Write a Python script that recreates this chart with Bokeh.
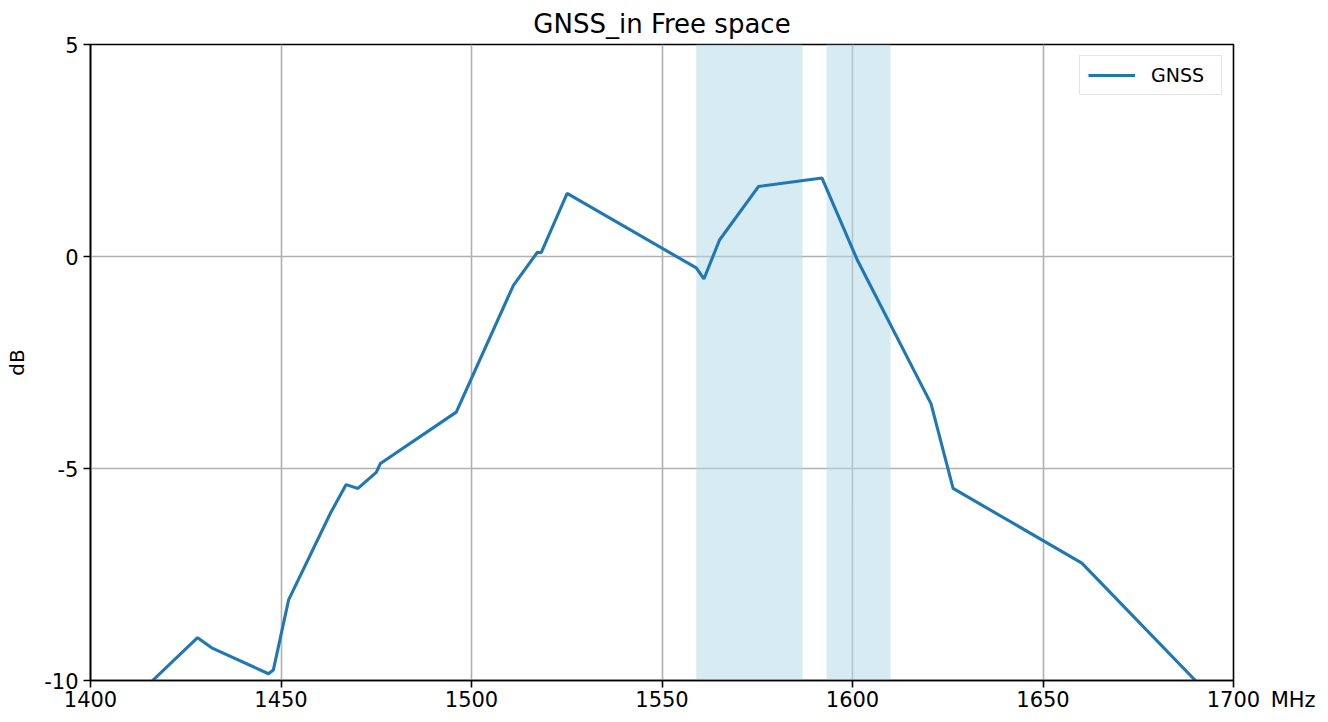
from bokeh.plotting import figure
from bokeh.models import BoxAnnotation, Range1d, Legend, LegendItem, FixedTicker
from bokeh.embed import file_html
from bokeh.resources import INLINE

# ---- data ----
freq_mhz = [1416.3, 1428.1, 1431.8, 1446.7, 1448.0, 1452.0, 1463.0, 1467.1, 1470.2,
            1475.0, 1476.1, 1496.0, 1511.0, 1517.3, 1518.3, 1525.1, 1559.0, 1561.0,
            1565.1, 1575.3, 1592.0, 1601.3, 1620.6, 1626.4, 1660.2, 1690.0]
gain_db = [-10.0, -8.99, -9.23, -9.84, -9.75, -8.10, -6.05, -5.38, -5.47,
           -5.09, -4.88, -3.67, -0.68, 0.10, 0.09, 1.49, -0.27, -0.53,
           0.39, 1.65, 1.85, -0.09, -3.47, -5.47, -7.23, -10.0]
band_left = [1559.0, 1593.2]
band_right = [1586.9, 1610.0]
x_ticks = [1400, 1450, 1500, 1550, 1600, 1650, 1700]
y_ticks = [-10, -5, 0, 5]
series_name = "GNSS"
title_text = "GNSS_in Free space"
x_unit = "MHz"

FONT = "DejaVu Sans"

p = figure(width=1320, height=714, output_backend="svg", toolbar_location=None,
           x_range=Range1d(1400, 1700), y_range=Range1d(-10, 5),
           min_border_left=90, min_border_right=87, min_border_top=44, min_border_bottom=33)

p.title.text = title_text
p.title.align = "center"
p.title.text_font = FONT
p.title.text_font_size = "26px"
p.title.text_font_style = "normal"
p.title.text_color = "black"
p.title.standoff = 12

for l, r in zip(band_left, band_right):
    p.add_layout(BoxAnnotation(left=l, right=r, fill_color="lightblue", fill_alpha=0.5,
                               line_alpha=0, level="underlay"))

line = p.line(freq_mhz, gain_db, line_color="#1f77b4", line_width=3.1)

p.outline_line_color = "black"
p.outline_line_width = 1.6
p.outline_line_alpha = 1.0

for ax in (p.xaxis[0], p.yaxis[0]):
    ax.axis_line_color = "black"
    ax.axis_line_width = 1.6
    ax.major_tick_line_color = "black"
    ax.major_tick_line_width = 1.6
    ax.major_tick_out = 7
    ax.major_tick_in = 0
    ax.minor_tick_line_color = None
    ax.major_label_text_font = FONT
    ax.major_label_text_font_size = "21px"
    ax.major_label_text_color = "black"

p.xaxis.major_label_standoff = 0
p.yaxis.major_label_standoff = 5

p.xaxis.ticker = FixedTicker(ticks=x_ticks)
p.yaxis.ticker = FixedTicker(ticks=y_ticks)
p.yaxis.major_label_overrides = {t: str(t) for t in y_ticks}

# the unit sits on the same line as the tick labels, right of the last tick:
# pad the last label symmetrically so that "1700" stays centred on its tick
x_labels = {t: str(t) for t in x_ticks}
x_labels[x_ticks[-1]] = "\u2003\u2003\u00a0\u00a0" + str(x_ticks[-1]) + "\u2002" + x_unit
p.xaxis.major_label_overrides = x_labels

p.yaxis.axis_label = "dB"
p.yaxis.axis_label_text_font = FONT
p.yaxis.axis_label_text_font_size = "20px"
p.yaxis.axis_label_text_font_style = "normal"
p.yaxis.axis_label_text_color = "black"
p.yaxis.axis_label_standoff = 12

p.xgrid.grid_line_color = "#b0b0b0"
p.ygrid.grid_line_color = "#b0b0b0"
p.xgrid.grid_line_width = 1.6
p.ygrid.grid_line_width = 1.6

legend = Legend(items=[LegendItem(label=series_name, renderers=[line])],
                location="top_right", margin=11, padding=8, spacing=0,
                label_standoff=16, glyph_width=47, glyph_height=20, label_width=62,
                label_height=20,
                label_text_font=FONT, label_text_font_size="19px",
                label_text_color="black",
                border_line_color="#cccccc", border_line_width=1.5,
                background_fill_alpha=0.8)
p.add_layout(legend)

open("out.html", "w").write(file_html(p, INLINE))
